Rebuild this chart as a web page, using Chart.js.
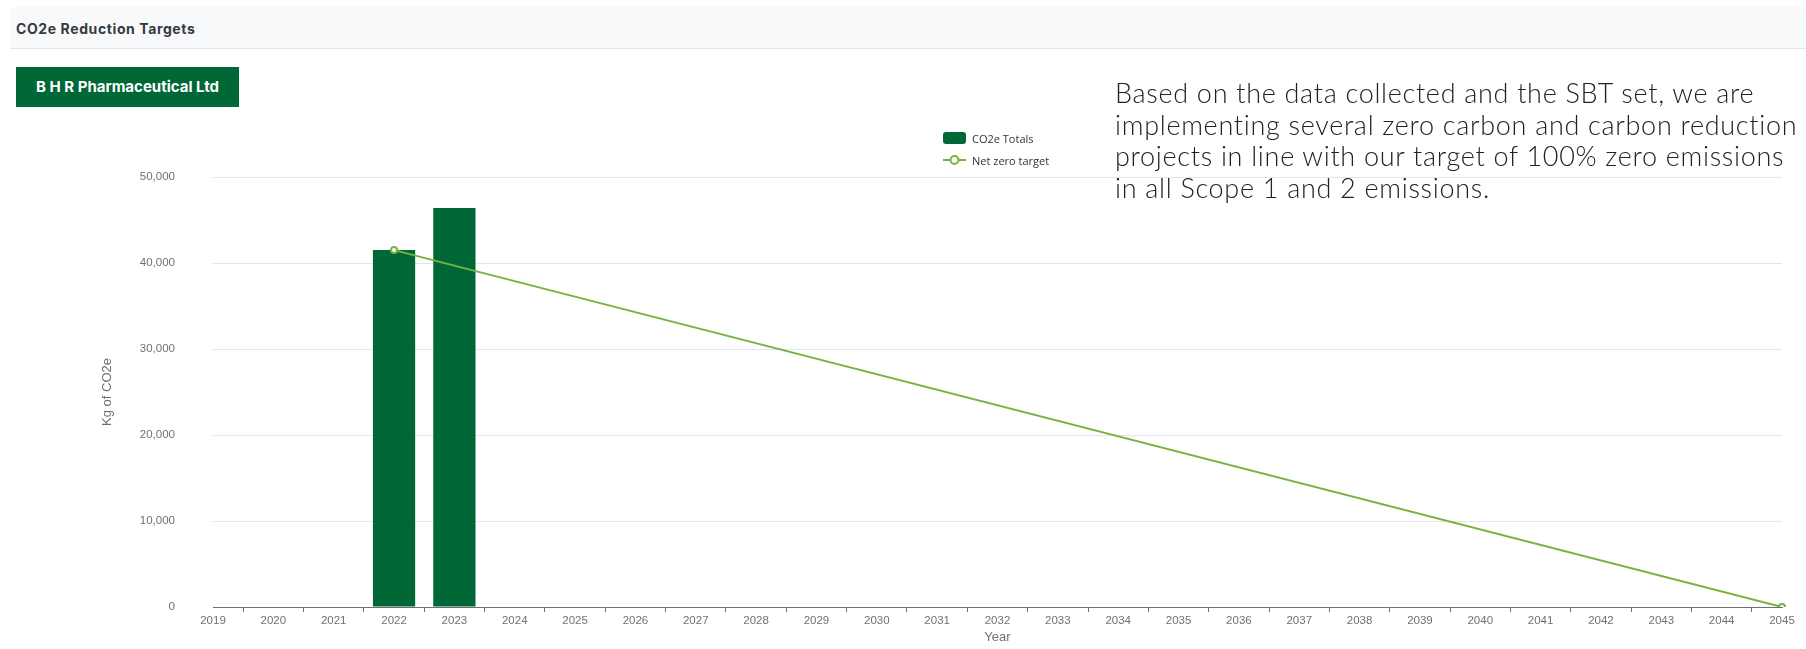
<!DOCTYPE html>
<html>
<head>
<meta charset="utf-8">
<script src="https://cdn.jsdelivr.net/npm/chart.js@4.4.1/dist/chart.umd.min.js"></script>
<style>
  html, body { margin: 0; padding: 0; width: 1806px; height: 649px; overflow: hidden; background: #fff; }
  #wrap { position: absolute; left: 0; top: 0; width: 1806px; height: 649px; }
  .header { position: absolute; left: 10px; top: 7px; right: 0; height: 41px; background: #f8f9fa;
    border-bottom: 1px solid #e3e6ea; z-index: 2; }
  .header span { position: absolute; left: 6px; top: 13px; font: 700 14px Inter, sans-serif; letter-spacing: 0.6px; color: #343a40; }
  .company { position: absolute; left: 16px; top: 67px; width: 223px; height: 40px; background: #006837;
    color: #fff; font: 700 15px Inter, sans-serif; line-height: 40px; text-align: center; z-index: 2; }
  .blurb { position: absolute; left: 1115px; top: 77px; white-space: nowrap; font-family: Lato, sans-serif;
    font-weight: 300; font-size: 27px; letter-spacing: 0.7px; line-height: 31.7px; color: #222; z-index: 2; }
  #legend { position: absolute; left: 943px; top: 127px; z-index: 2; font: 11px "Open Sans", sans-serif; color: #333; }
  #legend div { height: 22px; display: flex; align-items: center; }
  #legend i { display: inline-block; width: 23px; height: 12px; margin-right: 6px; position: relative; }
</style>
</head>
<body>
<div id="wrap"><canvas id="myChart"></canvas></div>
<div class="header"><span>CO2e Reduction Targets</span></div>
<div class="company">B H R Pharmaceutical Ltd</div>
<div class="blurb">Based on the data collected and the SBT set, we are<br>implementing several zero carbon and carbon reduction<br>projects in line with our target of 100% zero emissions<br>in all Scope 1 and 2 emissions.</div>
<div id="legend"></div>
<script>
var years = ['2019', '2020', '2021', '2022', '2023', '2024', '2025', '2026', '2027', '2028', '2029', '2030', '2031',
  '2032', '2033', '2034', '2035', '2036', '2037', '2038', '2039', '2040', '2041', '2042', '2043', '2044', '2045'];
var co2eTotals = [null, null, null, 41500, 46400, null, null, null, null, null, null, null, null,
  null, null, null, null, null, null, null, null, null, null, null, null, null, null];
// target line: only the start and end points, joined straight across
var netZeroTarget = [null, null, null, 41500, null, null, null, null, null, null, null, null, null,
  null, null, null, null, null, null, null, null, null, null, null, null, null, 0];
var yTicks = [0, 10000, 20000, 30000, 40000, 50000];

var barColor = '#006837';
var lineColor = '#78b340';
var axisGray = '#6e7079';
Chart.defaults.font.family = '"Liberation Sans", Arial, sans-serif';

var ctx = document.getElementById('myChart').getContext('2d');
var myChart = new Chart(ctx, {
  type: 'bar',
  data: {
    labels: years,
    datasets: [{
      label: 'CO2e Totals',
      data: co2eTotals,
      backgroundColor: barColor,
      barPercentage: 0.7,
      categoryPercentage: 1,
      order: 1
    }, {
      type: 'line',
      label: 'Net zero target',
      data: netZeroTarget,
      borderColor: lineColor,
      borderWidth: 2,
      backgroundColor: '#fff',
      pointBorderColor: lineColor,
      pointBorderWidth: 2,
      pointRadius: 3,
      spanGaps: true,
      order: 0
    }]
  },
  options: {
    responsive: true,
    maintainAspectRatio: false,
    animation: false,
    layout: { padding: { left: 0, right: 24, top: 177, bottom: 0 } },
    plugins: { legend: { display: false }, tooltip: { enabled: false } },
    scales: {
      x: {
        offset: false,
        grid: { drawOnChartArea: false, drawTicks: true, tickLength: 5, tickColor: axisGray },
        border: { color: axisGray, width: 1 },
        ticks: { color: axisGray, font: { size: 11.5 }, padding: 2, maxRotation: 0, autoSkip: false },
        title: { display: true, text: 'Year', color: axisGray, font: { size: 13 }, padding: { bottom: 4, top: 0 } },
        afterFit: function (scale) { scale.height = 42; }
      },
      y: {
        min: 0,
        max: 50000,
        afterBuildTicks: function (scale) { scale.ticks = yTicks.map(function (v) { return { value: v }; }); },
        // invisible tick marks give the gap between labels and plot
        grid: { color: '#e0e6f1', drawTicks: true, tickLength: 34, tickColor: 'rgba(0,0,0,0)' },
        border: { display: false },
        ticks: {
          color: axisGray, font: { size: 11.5 }, padding: 4,
          callback: function (v) { return v.toLocaleString('en-US'); }
        },
        title: { display: true, text: 'Kg of CO2e', color: axisGray, font: { size: 13 }, padding: { top: 100, bottom: 0 } },
        afterFit: function (scale) { scale.width = 213; }
      }
    }
  }
});

// legend built from the chart's own datasets
var legend = document.getElementById('legend');
myChart.data.datasets.forEach(function (ds) {
  var row = document.createElement('div');
  var sw = document.createElement('i');
  if (ds.type === 'line') {
    sw.innerHTML = '<svg width="23" height="12"><line x1="0" y1="6" x2="23" y2="6" stroke="' + ds.borderColor +
      '" stroke-width="2"/><circle cx="11.5" cy="6" r="4" fill="#fff" stroke="' + ds.borderColor + '" stroke-width="2"/></svg>';
  } else {
    sw.style.background = ds.backgroundColor;
    sw.style.borderRadius = '3px';
  }
  row.appendChild(sw);
  row.appendChild(document.createTextNode(ds.label));
  legend.appendChild(row);
});
</script>
</body>
</html>
